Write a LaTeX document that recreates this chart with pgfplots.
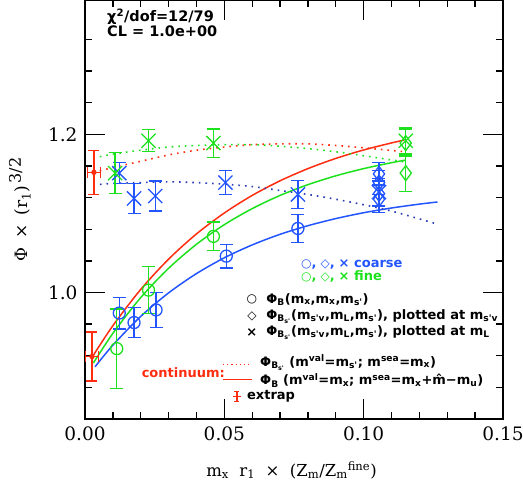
\documentclass[border=0pt]{standalone}
\usepackage{pgfplots}
\pgfplotsset{compat=1.18}
\usepackage{fontspec}
\newfontfamily\serifA{DejaVu Serif}
\newfontfamily\sansB{DejaVu Sans}

\definecolor{cblue}{RGB}{35,85,255}
\definecolor{cdblue}{RGB}{40,60,180}
\definecolor{cgreen}{RGB}{30,225,30}
\definecolor{cred}{RGB}{255,45,15}

\pgfplotsset{
  eb/.style={only marks, line width=1.3pt,
    error bars/y dir=both, error bars/y explicit,
    error bars/error bar style={line width=1.3pt},
    error bars/error mark options={rotate=90, mark size=6.5pt, line width=1.3pt}},
}
\tikzset{
  lg/.style={font=\sansB\bfseries\fontsize{13}{15}\selectfont, inner sep=0pt},
  sy/.style={font=\sansB\bfseries\fontsize{12}{13}\selectfont, inner sep=0pt},
}
\newcommand{\sm}[1]{{\fontsize{12}{12}\selectfont #1}}

\begin{document}
\begin{tikzpicture}
\begin{axis}[
    name=ax,
    scale only axis,
    width=418pt, height=419pt,
    xmin=0, xmax=0.15, ymin=0.84, ymax=1.37,
    xtick={0,0.05,0.1,0.15},
    minor xtick={0.01,0.02,0.03,0.04,0.06,0.07,0.08,0.09,0.11,0.12,0.13,0.14},
    ytick={1.0,1.2},
    minor ytick={0.88,0.92,0.96,1.04,1.08,1.12,1.16,1.24,1.28,1.32},
    tick align=inside,
    major tick length=20pt, minor tick length=7pt,
    tick style={line width=1.3pt, black},
    axis line style={line width=1.5pt},
    scaled x ticks=false,
    xticklabel style={yshift=-4pt, /pgf/number format/.cd, fixed, fixed zerofill, precision=2},
    yticklabel style={xshift=-4pt, /pgf/number format/.cd, fixed, fixed zerofill, precision=1},
    /pgf/number format/assume math mode=true,
    ticklabel style={font=\serifA\fontsize{18.5}{20}\selectfont},
    xlabel={m\textsubscript{x}\ \ r\textsubscript{1}\ \ ×\ \ (Z\textsubscript{m}/Z\textsubscript{m}\textsuperscript{fine})},
    ylabel={Φ\hspace{9pt}×\hspace{9pt}(r\textsubscript{1})\raisebox{7pt}{\fontsize{16}{16}\selectfont\,3/2}},
    xlabel style={font=\serifA\fontsize{16.5}{18}\selectfont, at={(axis description cs:0.494,-0.122)}, anchor=center},
    ylabel style={font=\serifA\fontsize{17}{18}\selectfont, at={(axis description cs:-0.156,0.5)}, anchor=center},
]

% continuum curves
\addplot[cred, line width=1.5pt, smooth, no marks] coordinates {
 (0.003,0.9206) (0.01,0.958) (0.02,1.0039) (0.03,1.0422) (0.04,1.0741)
 (0.05,1.1006) (0.06,1.1228) (0.07,1.1413) (0.08,1.1567) (0.09,1.1696)
 (0.10,1.1803) (0.11,1.1892) (0.1144,1.1927)};
\addplot[cred, line width=1.6pt, dash pattern=on 1.6pt off 5pt, smooth, no marks] coordinates {
 (0.003,1.152) (0.01,1.158) (0.02,1.166) (0.03,1.174) (0.04,1.180) (0.05,1.184)
 (0.06,1.187) (0.07,1.188) (0.08,1.188) (0.09,1.186) (0.10,1.183) (0.115,1.178)};

% fine fits
\addplot[cgreen, line width=1.5pt, smooth, no marks] coordinates {
 (0.003,0.9108) (0.01,0.9483) (0.02,0.9936) (0.03,1.0306) (0.04,1.0610)
 (0.05,1.0858) (0.06,1.1061) (0.07,1.1228) (0.08,1.1364) (0.09,1.1476)
 (0.10,1.1567) (0.11,1.1642) (0.115,1.1674)};
\addplot[cgreen, line width=1.6pt, dash pattern=on 1.6pt off 5pt, smooth, no marks] coordinates {
 (0.003,1.170) (0.01,1.175) (0.02,1.180) (0.03,1.184) (0.04,1.186) (0.05,1.187)
 (0.06,1.187) (0.07,1.185) (0.08,1.182) (0.09,1.178) (0.10,1.173) (0.115,1.165)};

% coarse fits
\addplot[cblue, line width=1.5pt, smooth, no marks] coordinates {
 (0.0036,0.906) (0.01,0.9334) (0.02,0.9698) (0.03,0.9995) (0.04,1.0239)
 (0.05,1.0439) (0.06,1.0602) (0.07,1.0736) (0.08,1.0845) (0.09,1.0935)
 (0.10,1.1009) (0.11,1.1069) (0.12,1.1118) (0.1265,1.1145)};
\addplot[cdblue, line width=1.6pt, dash pattern=on 1.6pt off 5pt, smooth, no marks] coordinates {
 (0.003,1.136) (0.01,1.138) (0.02,1.139) (0.03,1.140) (0.04,1.139) (0.05,1.137)
 (0.06,1.134) (0.07,1.129) (0.08,1.124) (0.09,1.118) (0.10,1.111) (0.11,1.103) (0.126,1.087)};

% coarse data
\addplot[cblue, mark=o, mark size=6pt, eb] coordinates {
 (0.0123,0.974) +- (0,0.020) (0.0176,0.962) +- (0,0.019) (0.0255,0.978) +- (0,0.022)
 (0.0507,1.046) +- (0,0.015) (0.0764,1.081) +- (0,0.018)};
\addplot[cblue, mark=x, mark size=10pt, eb] coordinates {
 (0.0123,1.151) +- (0,0.013) (0.0176,1.119) +- (0,0.019) (0.0252,1.122) +- (0,0.019)
 (0.0504,1.139) +- (0,0.015) (0.0764,1.124) +- (0,0.018) (0.1055,1.127) +- (0,0.017)};
\addplot[cblue, mark=diamond, mark size=7.5pt, eb] coordinates {
 (0.1055,1.150) +- (0,0.014) (0.1055,1.139) +- (0,0.015)
 (0.1055,1.125) +- (0,0.016) (0.1055,1.118) +- (0,0.017)};

% fine data
\addplot[cgreen, mark=o, mark size=6pt, eb] coordinates {
 (0.0114,0.929) +- (0,0.050) (0.0228,1.003) +- (0,0.030) (0.0461,1.071) +- (0,0.018)};
\addplot[cgreen, mark=x, mark size=10pt, eb] coordinates {
 (0.0108,1.151) +- (0,0.026) (0.0228,1.192) +- (0,0.014)
 (0.0461,1.189) +- (0,0.018) (0.1151,1.192) +- (0,0.016)};
\addplot[cgreen, mark=diamond, mark size=7.5pt, eb] coordinates {
 (0.1151,1.189) +- (0,0.017) (0.1151,1.151) +- (0,0.023)};

% continuum extrapolation
\addplot[cred, only marks, mark=none, line width=1.3pt,
  error bars/x dir=both, error bars/x explicit, error bars/y dir=both, error bars/y explicit,
  error bars/error bar style={line width=1.3pt},
  error bars/error mark options={rotate=90, mark size=5.5pt, line width=1.3pt}] coordinates {
 (0.0032,1.152) +- (0.0023,0.028) (0.0025,0.919) +- (0.0023,0.031)};

% annotations
\node[lg, anchor=west, font=\sansB\bfseries\fontsize{14.5}{16}\selectfont] at (axis cs:0.0079,1.349) {χ\textsuperscript{2}/dof=12/79};
\node[lg, anchor=west, font=\sansB\bfseries\fontsize{14.5}{16}\selectfont] at (axis cs:0.0079,1.330) {CL = 1.0e+00};

\node[lg, anchor=west, text=cblue] at (axis cs:0.0775,1.0354) {\sm{○},\hspace{4pt}\sm{◇},\hspace{4pt}× coarse};
\node[lg, anchor=west, text=cgreen] at (axis cs:0.0775,1.0203) {\sm{○},\hspace{4pt}\sm{◇},\hspace{4pt}× fine};

\node[sy] at (axis cs:0.0599,0.9911) {○};
\node[sy] at (axis cs:0.0599,0.9696) {◇};
\node[lg] at (axis cs:0.0599,0.9494) {×};
\node[lg, anchor=west] at (axis cs:0.0650,0.9911) {Φ\textsubscript{B}(m\textsubscript{x},m\textsubscript{x},m\textsubscript{s'})};
\node[lg, anchor=west] at (axis cs:0.0650,0.9696) {Φ\textsubscript{B\textsubscript{s'}}(m\textsubscript{s'v},m\textsubscript{L},m\textsubscript{s'}), plotted at m\textsubscript{s'v}};
\node[lg, anchor=west] at (axis cs:0.0650,0.9494) {Φ\textsubscript{B\textsubscript{s'}}(m\textsubscript{s'v},m\textsubscript{L},m\textsubscript{s'}), plotted at m\textsubscript{L}};

\node[lg, anchor=west, text=cred] at (axis cs:0.0203,0.8987) {continuum:};
\draw[cred, line width=1.2pt, dash pattern=on 1.2pt off 3pt] (axis cs:0.0495,0.9089) -- (axis cs:0.0588,0.9089);
\draw[cred, line width=1.5pt] (axis cs:0.0495,0.8899) -- (axis cs:0.0599,0.8899);
\node[lg, anchor=west] at (axis cs:0.0628,0.9114) {Φ\textsubscript{B\textsubscript{s'}} (m\textsuperscript{val}=m\textsubscript{s'}; m\textsuperscript{sea}=m\textsubscript{x})};
\node[lg, anchor=west] at (axis cs:0.0628,0.8886) {Φ\textsubscript{B} (m\textsuperscript{val}=m\textsubscript{x}; m\textsuperscript{sea}=m\textsubscript{x}+\^{m}−m\textsubscript{u})};

\coordinate (ex) at (axis cs:0.0545,0.8684);
\draw[cred, line width=1.4pt]
  ([yshift=-5pt]ex) -- ([yshift=5pt]ex)
  ([xshift=-4pt]ex) -- ([xshift=4pt]ex)
  ([xshift=-2.5pt,yshift=5pt]ex) -- ([xshift=2.5pt,yshift=5pt]ex)
  ([xshift=-2.5pt,yshift=-5pt]ex) -- ([xshift=2.5pt,yshift=-5pt]ex);
\node[lg, anchor=west] at (axis cs:0.0581,0.8684) {extrap};

\end{axis}
\pgfresetboundingbox
\path ([shift={(-85pt,-64pt)}]ax.south west) rectangle ([shift={(20pt,0pt)}]ax.north east);
\end{tikzpicture}
\end{document}
